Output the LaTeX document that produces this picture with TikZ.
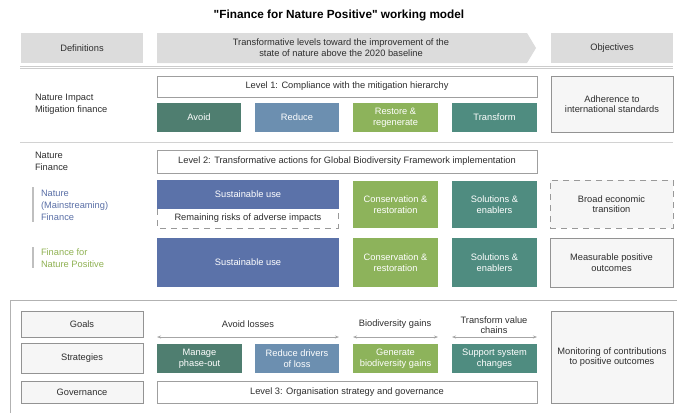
\documentclass[tikz,border=0pt]{standalone}
\usepackage{fontspec}
\setmainfont{Liberation Sans}[Ligatures=TeXOff]
\usetikzlibrary{arrows.meta}
\definecolor{hdrgray}{HTML}{DCDCDC}
\definecolor{txtgray}{HTML}{2E2E2E}
\definecolor{cAvoid}{HTML}{4F7E70}
\definecolor{cReduce}{HTML}{6C8FB0}
\definecolor{cGreen}{HTML}{8DB35B}
\definecolor{cTeal}{HTML}{4F8C80}
\definecolor{cBlue}{HTML}{5B72A9}
\definecolor{cLblBlue}{HTML}{5A6FA6}
\definecolor{cLblGreen}{HTML}{8FB152}
\definecolor{objfill}{HTML}{F6F6F6}
\begin{document}
\begin{tikzpicture}[x=1pt,y=-1pt,
  every node/.style={font=\fontsize{9.3}{10.6}\selectfont, text=txtgray, inner sep=0pt, outer sep=0pt},
  hdr/.style={fill=hdrgray, draw=none, anchor=north west, align=center},
  lvl/.style={draw=gray!75, fill=white, line width=0.7pt, anchor=north west, align=center},
  cbox/.style={fill=#1, draw=none, anchor=north west, align=center, text=white},
  obj/.style={draw=gray!85, fill=objfill, line width=0.8pt, anchor=north west, align=center},
  dbox/.style={draw=gray!80, fill=objfill, dash pattern=on 6pt off 5pt, line width=0.8pt, anchor=north west, align=center},
  dline/.style={draw=gray!80, dash pattern=on 6pt off 5pt, line width=0.8pt},
  lab/.style={anchor=west, align=left, font=\fontsize{9.3}{12.5}\selectfont},
  sep/.style={draw=gray!55, line width=0.8pt},
  bar/.style={draw=gray!50, line width=1.2pt},
  garrow/.style={draw=gray!70, line width=0.6pt, {Stealth[length=4pt,width=3pt]}-{Stealth[length=4pt,width=3pt]}}
]
\useasboundingbox (0,0) rectangle (677,413);

% title
\node[font=\bfseries\fontsize{11.8}{13}\selectfont, text=black] (title) at (339,15) {"Finance for Nature Positive" working model};

% header
\node[hdr, minimum width=122pt, minimum height=30pt] (defs) at (21,33) {Definitions};
\fill[hdrgray] (157,33) -- (527,33) -- (536,48) -- (527,63) -- (157,63) -- cycle;
\node[align=center, font=\fontsize{9.3}{11}\selectfont] (levels) at (341,48) {Transformative levels toward the improvement of the\\state of nature above the 2020 baseline};
\node[hdr, minimum width=122pt, minimum height=30pt] (objs) at (551,33) {Objectives};
\coordinate (dl1) at (20,66); \coordinate (dr1) at (673,66);
\coordinate (dl2) at (20,68.5); \coordinate (dr2) at (673,68.5);
\draw[sep, draw=gray!40] (dl1) -- (dr1);
\draw[sep, draw=gray!40] (dl2) -- (dr2);

% level 1
\node[lab] (nim) at (35,104.5) {Nature Impact\\Mitigation finance};
\node[lvl, minimum width=380pt, minimum height=21pt] (lv1) at (157,76) {Level 1: Compliance with the mitigation hierarchy};
\node[cbox=cAvoid, minimum width=84pt, minimum height=29pt] (avoid) at (157,103) {Avoid};
\node[cbox=cReduce, minimum width=84pt, minimum height=29pt] (reduce) at (255,103) {Reduce};
\node[cbox=cGreen, minimum width=85pt, minimum height=29pt] (restore) at (353,103) {Restore \&\\regenerate};
\node[cbox=cTeal, minimum width=85pt, minimum height=29pt] (transform) at (452,103) {Transform};
\node[obj, minimum width=122pt, minimum height=56pt] (adh) at (551,76) {Adherence to\\international standards};

\coordinate (sl1) at (20,142.5); \coordinate (sr1) at (673,142.5);
\draw[sep, draw=gray!35] (sl1) -- (sr1);

% level 2
\node[lab] (nf) at (35,161.5) {Nature\\Finance};
\coordinate (b1t) at (33,187); \coordinate (b1b) at (33,222);
\draw[bar] (b1t) -- (b1b);
\node[lab, text=cLblBlue, font=\fontsize{9.3}{12}\selectfont] (nmf) at (41,205) {Nature\\(Mainstreaming)\\Finance};
\coordinate (b2t) at (33,247); \coordinate (b2b) at (33,268);
\draw[bar] (b2t) -- (b2b);
\node[lab, text=cLblGreen, font=\fontsize{9.3}{12}\selectfont] (fnp) at (41,258) {Finance for\\Nature Positive};

\node[lvl, minimum width=380pt, minimum height=23pt] (lv2) at (157,150) {Level 2: Transformative actions for Global Biodiversity Framework implementation};
\node[cbox=cBlue, minimum width=182pt, minimum height=29pt] (su1) at (157,180) {Sustainable use};
\node[fill=white, anchor=north west, minimum width=181pt, minimum height=19pt] (risk) at (157.4,209) {Remaining risks of adverse impacts};
\draw[dline] (risk.north west) -- (risk.south west) -- (risk.south east) -- (risk.north east);
\node[cbox=cGreen, minimum width=85pt, minimum height=47pt] (cons1) at (353,181) {Conservation \&\\restoration};
\node[cbox=cTeal, minimum width=85pt, minimum height=47pt] (sol1) at (452,181) {Solutions \&\\enablers};
\node[dbox, minimum width=123pt, minimum height=48pt] (broad) at (550,180) {Broad economic\\transition};

\node[cbox=cBlue, minimum width=182pt, minimum height=49pt] (su2) at (157,238) {Sustainable use};
\node[cbox=cGreen, minimum width=85pt, minimum height=49pt] (cons2) at (353,238) {Conservation \&\\restoration};
\node[cbox=cTeal, minimum width=85pt, minimum height=49pt] (sol2) at (452,238) {Solutions \&\\enablers};
\node[obj, minimum width=123pt, minimum height=49pt] (meas) at (550,238) {Measurable positive\\outcomes};

% bottom panel
\coordinate (fl) at (10,413); \coordinate (fc) at (10,300); \coordinate (fr) at (677,300);
\draw[draw=gray!60, line width=0.8pt] (fl) -- (fc) -- (fr);

\node[obj, minimum width=122pt, minimum height=26pt] (goals) at (21,311) {Goals};
\node[obj, minimum width=122pt, minimum height=30pt] (strat) at (21,343) {Strategies};
\node[obj, minimum width=122pt, minimum height=22pt] (gov) at (21,381) {Governance};

\node (al) at (248,324) {Avoid losses};
\node (bg) at (395,324) {Biodiversity gains};
\node[align=center, font=\fontsize{9.3}{10}\selectfont] (tvc) at (494,325) {Transform value\\chains};
\coordinate (a1l) at (157,337); \coordinate (a1r) at (339,337);
\coordinate (a2l) at (353,337); \coordinate (a2r) at (438,337);
\coordinate (a3l) at (452,337); \coordinate (a3r) at (537,337);
\draw[garrow] (a1l) -- (a1r);
\draw[garrow] (a2l) -- (a2r);
\draw[garrow] (a3l) -- (a3r);

\node[cbox=cAvoid, minimum width=85pt, minimum height=29pt] (manage) at (157,344) {Manage\\phase-out};
\node[cbox=cReduce, minimum width=84pt, minimum height=29pt] (rdl) at (255,344) {Reduce drivers\\of loss};
\node[cbox=cGreen, minimum width=85pt, minimum height=29pt] (gen) at (353,344) {Generate\\biodiversity gains};
\node[cbox=cTeal, minimum width=85pt, minimum height=29pt] (sup) at (452,344) {Support system\\changes};
\node[lvl, minimum width=380pt, minimum height=22pt] (lv3) at (157,381) {Level 3: Organisation strategy and governance};
\node[obj, minimum width=122pt, minimum height=92pt] (mon) at (551,311) {Monitoring of contributions\\to positive outcomes};
\end{tikzpicture}
\end{document}
